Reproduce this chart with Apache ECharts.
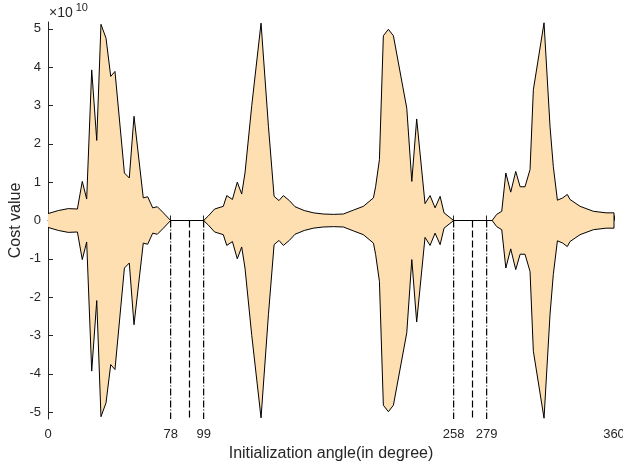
<!DOCTYPE html>
<html>
<head>
<meta charset="utf-8">
<script src="https://cdn.jsdelivr.net/npm/echarts@6/dist/echarts.min.js"></script>
<style>
  html, body { margin: 0; padding: 0; background: #fff; }
  #chart { width: 623px; height: 471px; }
</style>
</head>
<body>
<div id="chart"></div>
<script>
// initialization angle (degree) and the cost envelope, in units of 1e10
var angles = [0, 6.6, 12.9, 18.7, 21.8, 24.6, 27.8, 31.0, 33.7, 36.9, 39.9, 42.6, 48.6, 51.7, 54.7,
  60.6, 63.4, 66.6, 69.5, 73.4, 78, 99, 102, 106, 111.5, 113.7, 117.3, 120.4, 123.2, 125.3, 129.6,
  135.5, 140.2, 143.8, 146.9, 149.7, 153.5, 157.1, 163, 168.8, 175, 181.5, 187.9, 194.2, 200.6,
  207, 208.4, 210.8, 213.3, 216.5, 219.7, 228.2, 231.4, 234.5, 239.8, 243, 246.2, 249.4, 251.9,
  258, 279, 282.5, 285.4, 288.6, 291.2, 294.3, 297.5, 300.3, 303.4, 306.6, 308.7, 315.5, 319.3,
  321.4, 324, 327.4, 330.3, 332, 338.4, 346.9, 355, 360, 360];
var costUpper = [0.18, 0.26, 0.31, 0.30, 1.02, 0.56, 3.93, 2.09, 5.12, 4.76, 3.76, 3.89, 1.24, 1.11, 2.72,
  0.59, 0.62, 0.33, 0.36, 0.20, 0, 0, 0.12, 0.30, 0.37, 0.65, 0.55, 1.00, 0.69, 1.24, 3.00,
  5.15, 2.46, 0.63, 0.52, 0.65, 0.52, 0.36, 0.26, 0.20, 0.17, 0.16, 0.17, 0.27, 0.37,
  0.59, 0.89, 1.59, 4.82, 4.99, 4.82, 2.93, 1.02, 2.65, 0.44, 0.65, 0.33, 0.63, 0.20,
  0, 0, 0, 0.16, 0.24, 1.24, 0.74, 1.28, 0.88, 0.88, 1.33, 3.41, 5.16, 2.46,
  1.41, 0.53, 0.59, 0.68, 0.55, 0.37, 0.24, 0.20, 0.20, 0];

// boundary angles (dash-dot) and middle angles (dashed)
var boundaryAngles = [78, 99, 258, 279];
var middleAngles = [90, 270];

var xTicks = [0, 78, 99, 258, 279, 360];
var yTicks = [-5, -4, -3, -2, -1, 0, 1, 2, 3, 4, 5];

var yLimit = 5.18;
var fillColor = '#fddfb1';
var textColor = '#262626';
var fontFamily = '"Liberation Sans", Arial, Helvetica, sans-serif';

var chart = echarts.init(document.getElementById('chart'), null, { renderer: 'canvas' });

let upper = [], lower = [];
for (let i = 0; i < angles.length; i++) {
  upper.push([angles[i], costUpper[i]]);
  lower.push([angles[i], -costUpper[i]]);
}

// the filled envelope: upper edge forward, lower edge back, as one polygon
function renderEnvelope(params, api) {
  if (params.dataIndex !== 0) return null;
  let pts = [];
  for (let i = 0; i < upper.length; i++) pts.push(api.coord(upper[i]));
  for (let i = lower.length - 1; i >= 0; i--) pts.push(api.coord(lower[i]));
  return {
    type: 'polygon',
    shape: { points: pts },
    style: { fill: fillColor, stroke: null }
  };
}

function edge(d) {
  return {
    type: 'line',
    data: d,
    showSymbol: false,
    symbol: 'none',
    smooth: false,
    lineStyle: { color: '#000', width: 1 },
    z: 4
  };
}

function vline(x, dash) {
  return {
    type: 'line',
    data: [[x, 0], [x, -yLimit]],
    showSymbol: false,
    symbol: 'none',
    lineStyle: { color: '#000', width: 1.2, type: dash },
    z: 3
  };
}

let series = [
  {
    type: 'custom',
    renderItem: renderEnvelope,
    data: [[angles[0], 0]],
    silent: true,
    z: 2
  },
  edge(upper),
  edge(lower)
];
boundaryAngles.forEach(function (a) { series.push(vline(a, [7, 2, 1, 2])); });
middleAngles.forEach(function (a) { series.push(vline(a, [7, 3])); });

let option = {
  animation: false,
  backgroundColor: '#fff',
  textStyle: { fontFamily: fontFamily, color: textColor },
  grid: { left: 48, right: 9, top: 22, bottom: 52, containLabel: false, outerBoundsMode: 'none' },
  xAxis: {
    type: 'value',
    min: 0,
    max: 360,
    name: 'Initialization angle(in degree)',
    nameLocation: 'middle',
    nameGap: 27,
    nameMoveOverlap: false,
    nameTextStyle: { fontSize: 16, color: textColor, fontFamily: fontFamily },
    axisLine: { show: true, lineStyle: { color: textColor, width: 1 } },
    axisTick: { show: true, inside: true, length: 5, customValues: xTicks,
                lineStyle: { color: textColor } },
    axisLabel: { customValues: xTicks, fontSize: 13, color: textColor, margin: 9,
                 fontFamily: fontFamily },
    splitLine: { show: false }
  },
  yAxis: {
    type: 'value',
    min: -yLimit,
    max: yLimit,
    name: 'Cost value',
    nameLocation: 'middle',
    nameGap: 24,
    nameMoveOverlap: false,
    nameRotate: 90,
    nameTextStyle: { fontSize: 16, color: textColor, fontFamily: fontFamily },
    axisLine: { show: true, lineStyle: { color: textColor, width: 1 } },
    axisTick: { show: true, inside: true, length: 5, customValues: yTicks,
                lineStyle: { color: textColor } },
    axisLabel: { customValues: yTicks, fontSize: 13, color: textColor, margin: 7,
                 fontFamily: fontFamily,
                 formatter: function (v) { return String(Math.round(v)); } },
    splitLine: { show: false }
  },
  graphic: [{
    type: 'text',
    left: 49,
    top: 2,
    style: {
      text: '{a|\u00d710}{b|10}',
      rich: {
        a: { fontSize: 14, fill: textColor, fontFamily: fontFamily, verticalAlign: 'bottom', lineHeight: 18 },
        b: { fontSize: 11, fill: textColor, fontFamily: fontFamily, verticalAlign: 'top', lineHeight: 18, padding: [0, 0, 7, 3] }
      }
    }
  }],
  series: series
};

chart.setOption(option);
</script>
</body>
</html>
